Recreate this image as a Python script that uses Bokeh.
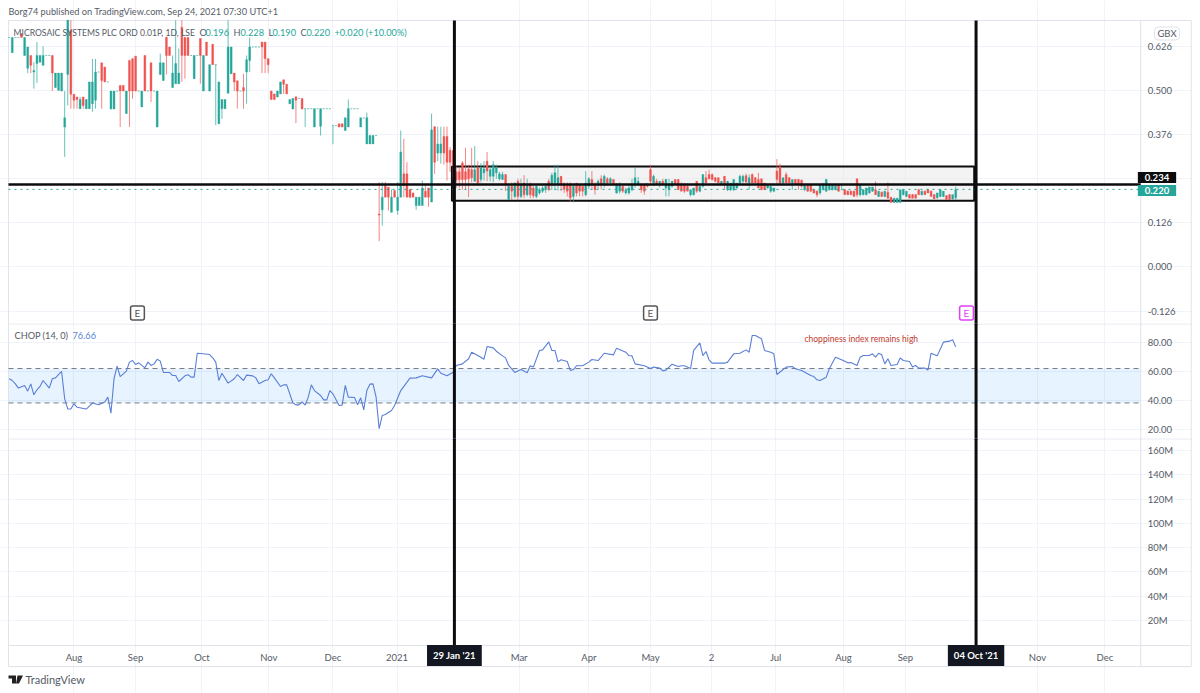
from bokeh.embed import file_html
from bokeh.layouts import column
from bokeh.models import (BoxAnnotation, ColumnDataSource, FixedTicker, Label,
                          PolyAnnotation, Range1d)
from bokeh.plotting import figure
from bokeh.resources import INLINE

# ---------- data ----------
opens = [
 .651,.608,.651,.651,.662,.600,.564,.600,.553,.577, .581,.572,.600,.600,.600,.509,.501,.499,.397,.546,
 .671,.490,.482,.449,.482,.449,.449,.463,.473,.553, .579,.567,.525,.448,.448,.499,.515,.515,.435,.586,
 .591,.598,.499,.454,.600,.499,.579,.499,.397,.546, .529,.652,.624,.509,.520,.520,.680,.651,.651,.600,
 .534,.600,.648,.499,.638,.499,.632,.574,.406,.449, .449,.493,.548,.550,.528,.499,.509,.553,.586,.624,
 .624,.624,.638,.638,.591,.499,.491,.482,.491,.531, .518,.463,.448,.482,.478,.478,.449,.449,.449,.397,
 .449,.399,.449,.449,.449,.401,.401,.406,.406,.387, .397,.449,.449,.449,.397,.423,.349,.349,.349,.373,
 .150,.162,.231,.226,.155,.217,.160,.198,.264,.264, .220,.210,.174,.174,.174,.215,.224,.184,.398,.323,
 .323,.370,.370,.331,.330,
 .270,.270,.295,.270,.278,.276,.243,.281,.248,.267, .300,.257,.257,.267,.250,.248,.262,.191,.229,.200,
 .243,.200,.238,.205,.234,.224,.200,.210,.215,.219, .243,.234,.238,.234,.257,.234,.234,.234,.200,.238,
 .234,.229,.205,.229,.248,.234,.234,.250,.234,.250, .238,.248,.210,.215,.229,.210,.210,.219,.234,.234,
 .234,.234,.234,
 .276,.238,.243,.234,.243,.224,.219,.229,.248,.248, .234,.234,.229,.205,.205,.243,.215,.229,.253,.262,
 .262,.253,.253,.234,.257,.219,.219,.219,.224,.238, .243,.259,.238,.262,.253,.248,.250,.238,.224,.215,
 .215,.272,.284,.238,.262,.253,.234,.248,.248,.246, .219,.234,.234,.219,.215,.210,.219,.215,.219,.219,
 .219,.234,.219,.219,.215,.215,.215,.250,.205,.205, .205,.210,.215,.219,.200,.212,.200,.212,.198,.183,
 .183,.183,.205,.200,.205,.205,.205,.219,.205,.215, .219,.215,.205,.196,.200,.200,.202,.205,.193,.196]
highs = [
 .651,.651,.651,.651,.662,.651,.624,.600,.581,.638, .600,.626,.600,.600,.600,.550,.550,.550,.499,.700,
 .700,.490,.482,.482,.482,.475,.525,.590,.590,.553, .579,.567,.525,.499,.499,.499,.515,.515,.499,.586,
 .591,.598,.499,.499,.600,.499,.579,.499,.499,.605, .579,.652,.624,.600,.700,.620,.700,.651,.651,.600,
 .600,.600,.648,.600,.638,.574,.632,.574,.525,.475, .475,.700,.624,.550,.528,.499,.548,.600,.651,.624,
 .624,.624,.638,.638,.591,.499,.491,.499,.525,.531, .518,.475,.478,.485,.478,.478,.449,.449,.449,.449,
 .449,.449,.449,.449,.449,.401,.401,.406,.406,.423, .475,.449,.449,.449,.423,.423,.438,.373,.373,.373,
 .241,.241,.241,.226,.220,.217,.241,.387,.364,.297, .220,.210,.198,.198,.245,.236,.224,.435,.398,.398,
 .398,.398,.398,.340,.330,
 .286,.280,.300,.338,.290,.338,.343,.300,.295,.300, .326,.285,.300,.290,.270,.270,.262,.235,.240,.240,
 .250,.250,.260,.250,.240,.230,.235,.225,.230,.235, .250,.267,.290,.290,.257,.240,.240,.240,.235,.238,
 .234,.229,.272,.255,.272,.240,.248,.260,.262,.255, .255,.248,.238,.240,.229,.225,.230,.250,.281,.255,
 .234,.234,.238,
 .290,.262,.250,.243,.250,.250,.250,.243,.248,.248, .240,.238,.232,.219,.224,.243,.229,.262,.272,.276,
 .265,.255,.253,.243,.257,.243,.238,.248,.238,.262, .262,.265,.262,.265,.255,.267,.250,.238,.234,.229,
 .224,.306,.293,.253,.269,.255,.248,.250,.250,.248, .234,.236,.236,.222,.217,.234,.238,.250,.234,.234,
 .231,.236,.234,.221,.217,.217,.217,.250,.234,.219, .224,.227,.227,.243,.215,.214,.215,.240,.198,.195,
 .195,.219,.219,.215,.207,.207,.207,.222,.215,.217, .222,.217,.207,.210,.219,.215,.204,.207,.205,.228]
lows = [
 .651,.608,.651,.651,.651,.600,.550,.550,.506,.522, .581,.572,.600,.600,.499,.509,.501,.499,.312,.458,
 .449,.449,.449,.449,.449,.449,.449,.440,.449,.553, .449,.525,.525,.448,.448,.499,.397,.499,.435,.397,
 .477,.499,.499,.454,.499,.499,.468,.499,.397,.546, .529,.546,.600,.509,.520,.520,.525,.534,.600,.600,
 .534,.600,.520,.499,.600,.499,.574,.402,.406,.420, .449,.493,.548,.499,.449,.499,.449,.463,.553,.624,
 .624,.624,.550,.550,.550,.475,.475,.482,.491,.491, .491,.463,.448,.408,.478,.448,.397,.449,.449,.397,
 .449,.373,.449,.449,.449,.348,.401,.397,.397,.387, .397,.449,.449,.449,.397,.423,.349,.349,.349,.373,
 .073,.117,.198,.160,.155,.198,.148,.198,.198,.198, .195,.198,.162,.174,.174,.198,.171,.184,.264,.300,
 .293,.290,.245,.270,.250,
 .224,.225,.219,.220,.198,.240,.243,.235,.240,.245, .243,.243,.240,.250,.245,.248,.215,.190,.190,.195,
 .190,.195,.195,.200,.195,.195,.195,.205,.210,.210, .215,.218,.218,.216,.215,.210,.200,.185,.183,.200,
 .200,.200,.200,.220,.220,.205,.220,.220,.225,.230, .234,.234,.208,.208,.210,.205,.205,.215,.225,.230,
 .210,.205,.225,
 .234,.230,.234,.225,.234,.200,.200,.225,.234,.219, .215,.210,.215,.200,.203,.210,.212,.225,.238,.248,
 .245,.240,.238,.230,.219,.215,.215,.215,.220,.235, .238,.240,.219,.238,.238,.224,.219,.219,.222,.210,
 .212,.234,.234,.235,.238,.238,.219,.234,.219,.225, .215,.213,.212,.208,.198,.205,.217,.213,.217,.217,
 .217,.213,.219,.205,.205,.205,.200,.198,.200,.203, .203,.208,.213,.205,.198,.200,.198,.195,.183,.183,
 .183,.183,.203,.198,.195,.195,.195,.205,.203,.205, .210,.200,.193,.194,.198,.198,.191,.191,.191,.190]
closes = [
 .651,.651,.651,.651,.651,.651,.624,.572,.557,.600, .600,.600,.600,.600,.550,.550,.550,.550,.423,.700,
 .490,.473,.475,.475,.458,.475,.525,.525,.553,.553, .529,.525,.525,.499,.499,.499,.499,.499,.499,.499,
 .499,.499,.499,.499,.499,.499,.499,.499,.499,.579, .579,.600,.600,.550,.577,.550,.600,.600,.600,.600,
 .600,.600,.600,.600,.600,.574,.574,.574,.525,.475, .475,.624,.624,.525,.499,.499,.499,.588,.624,.624,
 .624,.624,.624,.591,.574,.475,.475,.499,.525,.518, .491,.475,.478,.473,.478,.448,.449,.449,.449,.449,
 .449,.449,.449,.449,.449,.401,.401,.397,.397,.423, .449,.449,.449,.449,.423,.423,.423,.373,.373,.373,
 .147,.198,.198,.198,.198,.198,.198,.326,.231,.198, .198,.198,.198,.198,.224,.198,.198,.389,.297,.349,
 .349,.323,.297,.297,.288,
 .246,.248,.248,.248,.250,.253,.276,.238,.281,.278, .272,.276,.290,.281,.264,.262,.234,.229,.215,.238,
 .200,.234,.205,.234,.205,.202,.229,.219,.224,.229, .220,.260,.267,.253,.234,.220,.215,.196,.229,.210,
 .215,.215,.238,.250,.234,.219,.243,.234,.257,.238, .250,.234,.234,.234,.215,.219,.224,.234,.253,.243,
 .219,.215,.229,
 .243,.257,.234,.243,.234,.248,.234,.243,.234,.219, .215,.215,.215,.219,.224,.215,.229,.262,.238,.250,
 .248,.243,.238,.243,.234,.243,.238,.248,.238,.257, .257,.240,.253,.238,.238,.224,.219,.219,.234,.229,
 .224,.248,.238,.253,.238,.238,.248,.234,.234,.229, .234,.215,.215,.210,.205,.234,.234,.248,.234,.234,
 .231,.215,.219,.205,.205,.205,.200,.205,.234,.219, .224,.227,.227,.205,.215,.200,.215,.195,.183,.195,
 .195,.219,.219,.215,.195,.195,.195,.205,.215,.205, .210,.200,.193,.210,.219,.215,.191,.191,.205,.220]

chop_bars = [
 0,1,2,3,5,6,7,8,9,10,11,13,14,15,17,18,19,20,21,22,25,27,29,31,32,33,34,35,36,38,39,40,41,42,44,45,46,47,48,49,
 50,52,53,54,55,57,58,59,60,61,63,65,66,67,68,69,71,73,74,76,77,79,80,81,83,84,85,86,88,89,90,92,93,94,95,96,97,98,99,
 101,102,103,104,105,107,108,109,110,112,113,114,115,116,117,118,119,120,121,122,124,125,127,130,132,134,137,139,140,
 142,144,145,147,149,150,152,154,155,157,158,160,161,162,164,166,168,169,170,172,173,175,176,177,178,179,181,182,183,184,
 186,188,189,191,193,196,197,200,201,202,203,206,208,209,211,212,213,215,217,218,219,221,222,224,225,226,227,228,232,233,
 235,237,239,240,241,242,244,245,247,248,249,252,254,255,257,260,261,262,263,265,266,268,270,272,273,275,276,277,279,280,
 281,282,283,284,285,286,288,289,290,292,293,294,295,297,298,299,301,303,305,306,307]
chop_values = [
 54.8,53.6,51.3,48.4,50.2,46.3,51.3,43.8,47.2,49.5,53.6,48.4,54.8,55.4,59.8,41.0,34.0,34.0,37.6,35.3,34.0,38.1,36.9,38.8,42.2,31.2,54.8,63.4,56.3,60.0,66.2,67.3,64.6,65.7,62.3,66.2,63.9,65.0,68.2,66.9,
 59.1,59.1,57.0,57.0,52.9,56.8,57.5,55.9,55.9,72.3,71.9,71.4,69.2,66.2,53.6,58.6,51.8,54.8,57.7,53.6,57.3,56.8,55.4,51.3,53.6,54.1,58.2,55.4,49.5,50.6,50.6,38.3,36.9,36.9,39.0,36.7,42.2,50.6,46.7,
 43.3,40.3,40.3,46.7,44.5,36.5,36.7,50.2,42.2,41.9,36.9,41.7,33.5,46.7,51.1,51.3,42.2,20.5,29.6,30.3,33.0,36.5,46.7,55.2,55.4,56.8,55.4,61.6,58.6,
 56.8,59.3,63.9,65.0,68.5,73.0,70.7,68.2,76.9,76.0,73.7,70.5,69.1,63.9,59.1,61.1,58.9,63.7,62.8,74.2,74.6,80.1,74.2,74.2,66.4,67.8,66.6,60.5,61.1,63.7,
 63.7,66.2,68.0,67.3,72.3,71.2,75.8,73.0,70.7,70.5,65.0,63.7,61.8,62.8,62.1,60.2,60.7,64.8,63.2,63.7,63.7,61.8,74.2,79.4,70.7,73.5,67.8,65.5,65.5,66.2,
 71.9,72.3,74.6,73.0,84.5,84.5,82.2,74.2,73.0,71.9,57.7,62.8,63.2,61.6,60.5,57.0,56.3,54.1,53.6,55.9,61.6,69.6,67.8,65.7,65.9,63.9,69.6,70.7,70.7,71.9,
 69.6,72.3,71.2,65.0,68.5,63.9,64.6,69.1,67.3,66.6,62.8,63.9,62.1,62.1,60.7,72.3,70.5,79.9,80.6,81.5,76.66]

month_bars = [21, 41, 62.5, 84.2, 105, 125.8, 165.4, 188, 208, 227.8, 248.6, 270.6, 290.7, 333.5, 355.4]
month_labels = ["Aug", "Sep", "Oct", "Nov", "Dec", "2021", "Mar", "Apr", "May", "2", "Jul", "Aug", "Sep", "Nov", "Dec"]
price_ticks = [0.626, 0.5, 0.376, 0.25, 0.126, 0.0, -0.126]
price_labels = ["0.626", "0.500", "0.376", "0.250", "0.126", "0.000", "-0.126"]
chop_ticks = [80, 60, 40, 20]
chop_labels = ["80.00", "60.00", "40.00", "20.00"]
vol_ticks = [20e6, 40e6, 60e6, 80e6, 100e6, 120e6, 140e6, 160e6]
vol_labels = ["20M", "40M", "60M", "80M", "100M", "120M", "140M", "160M"]
volumes = []
earnings_bars = [41.6, 208, 310.5]
start_bar, end_bar = 144.4, 313.6
level_price, last_price = 0.234, 0.220
box_top, box_bottom = 0.285, 0.188
chop_upper, chop_lower = 61.8, 38.2

# ---------- styling ----------
UP, DOWN = "#26a69a", "#ef5350"
GRID, BORDER = "#f0f3fa", "#e0e3eb"
FONT = "Lato"
TXT = "#555b66"
BLACK = "#0c0c0f"
CHOP_BLUE = "#5a7fd6"
LEFT, RIGHT, OUTER = -0.23, 367, 383.4   # the plot's left and right edges and the outer right edge, in bars
X_RANGE = Range1d(-2.82, 383.8)
W = 1192


def pane(height, y0, y1, y_lo, y_hi, margin=0):
    """A pane whose frame fills its whole canvas, so that its texts can sit anywhere in it.
    Lower panes are transparent and overlap the one above by 2px, so the long black lines stay unbroken."""
    f = figure(width=W, height=height, x_range=X_RANGE, y_range=Range1d(y0, y1),
               y_axis_location="right", output_backend="svg", toolbar_location=None, min_border=0,
               margin=(margin, 0, 0, 0), background_fill_color=None, border_fill_color=None)
    f.outline_line_color = None
    f.xgrid.ticker = FixedTicker(ticks=month_bars)
    f.xgrid.bounds = (y_lo, y_hi)
    f.xgrid.grid_line_color = GRID
    f.ygrid.bounds = (LEFT, RIGHT)
    f.ygrid.grid_line_color = GRID
    f.yaxis.fixed_location = RIGHT
    f.yaxis.axis_line_color = None
    f.yaxis.major_tick_line_color = None
    f.yaxis.minor_tick_line_color = None
    f.yaxis.major_label_standoff = 1
    f.yaxis.major_label_text_font = FONT
    f.yaxis.major_label_text_font_size = "9.5px"
    f.yaxis.major_label_text_color = TXT
    # pane borders
    f.segment([LEFT, RIGHT, OUTER], [y_hi] * 3, [LEFT, RIGHT, OUTER], [y_lo] * 3, line_color=BORDER, line_width=1)
    f.segment([LEFT], [y_hi], [OUTER], [y_hi], line_color=BORDER, line_width=1)
    return f


def tag(f, text, **kw):
    opts = dict(text=text, text_font=FONT, text_font_size="8.6px", text_color=TXT, text_baseline="middle",
                x_units="screen", y_units="screen")
    opts.update(kw)
    f.add_layout(Label(**opts))


def black_lines(f, y_hi, y_lo):
    f.segment([start_bar, end_bar], [y_hi] * 2, [start_bar, end_bar], [y_lo] * 2, line_color=BLACK, line_width=3)


# ---------- price pane ----------
bars = list(range(len(opens)))
colors = [UP if c >= o else DOWN for o, c in zip(opens, closes)]
src = ColumnDataSource(dict(x=bars, o=opens, h=highs, l=lows, c=closes, color=colors))

P_TOP, P_BOTTOM = 0.6992, -0.1663
top = pane(325, P_BOTTOM, 0.756, P_BOTTOM, P_TOP)
top.xaxis.visible = False
top.yaxis.ticker = FixedTicker(ticks=price_ticks)
top.yaxis.major_label_overrides = dict(zip(price_ticks, price_labels))
top.ygrid.ticker = FixedTicker(ticks=price_ticks)

top.add_layout(BoxAnnotation(left=143.6, right=end_bar - 0.6, top=box_top, bottom=box_bottom,
                             fill_color="#e8e8e8", fill_alpha=0.5, line_color=BLACK, line_alpha=1, line_width=2,
                             level="underlay"))
top.segment("x", "h", "x", "l", source=src, line_color="color", line_width=1, line_alpha=0.7)
top.vbar("x", width=0.6, top="o", bottom="c", source=src, fill_color="color", line_color="color", line_width=0.4)

top.segment([LEFT], [last_price], [RIGHT], [last_price], line_color=UP, line_width=1, line_dash="dotted")
top.segment([LEFT], [level_price], [RIGHT], [level_price], line_color=BLACK, line_width=2.5)
black_lines(top, P_TOP, P_BOTTOM)

# header, legend, tags: x from the canvas's left, y from its bottom (this canvas ends 2px below the pane)
tag(top, "Borg74 published on TradingView.com, Sep 24, 2021 07:30 UTC+1", x=8, y=314, text_font_size="9.2px")
tag(top, "MICROSAIC SYSTEMS PLC ORD 0.01P, 1D, LSE", x=13, y=293)
for x, t, col in [(199, "O", TXT), (205, "0.196", UP), (233, "H", TXT), (240, "0.228", UP),
                  (268, "L", TXT), (272, "0.190", UP), (300, "C", TXT), (306, "0.220", UP),
                  (334, "+0.020 (+10.00%)", UP)]:
    tag(top, t, x=x, y=293, text_color=col, text_font_size="9.2px")
for bar, col in zip(earnings_bars, ["#555555", "#555555", "#e040fb"]):
    top.add_layout(Label(x=bar, y=-0.131, text="E", text_font=FONT, text_font_size="10px", text_color=col,
                         text_align="center", text_baseline="middle", border_line_color=col, border_line_width=1.5,
                         background_fill_color="white", padding=(4, 1), border_radius=2))
tag(top, "GBX", x=1166.5, y=292, text_align="center", border_line_color=BORDER, padding=(3, 1), border_radius=4,
    text_font_size="9.5px")
tag(top, "0.234", x=1156.5, y=148, text_align="center", text_color="white", text_font_style="bold",
    background_fill_color=BLACK, padding=(7, 2), text_font_size="9.5px")
tag(top, "0.220", x=1156.5, y=135, text_align="center", text_color="white", text_font_style="bold",
    background_fill_color=UP, padding=(7, 2), text_font_size="9.5px")

# ---------- CHOP pane (starts at 323, ends 2px into the next pane) ----------
M_TOP, M_BOTTOM = 92.7, 12.44
mid = pane(117, M_BOTTOM, M_TOP, M_BOTTOM, 92.4, margin=-2)
mid.xaxis.visible = False
mid.yaxis.ticker = FixedTicker(ticks=chop_ticks)
mid.yaxis.major_label_overrides = dict(zip(chop_ticks, chop_labels))
mid.ygrid.ticker = FixedTicker(ticks=chop_ticks)
mid.add_layout(BoxAnnotation(left=LEFT, right=RIGHT, top=chop_upper, bottom=chop_lower, fill_color="#2196f3",
                             fill_alpha=0.11, line_alpha=0, level="underlay"))
mid.segment([LEFT, LEFT], [chop_upper, chop_lower], [RIGHT, RIGHT], [chop_upper, chop_lower],
            line_color="#787b86", line_width=1, line_dash="5 4")
mid.line(chop_bars, chop_values, line_color=CHOP_BLUE, line_width=1.1)
black_lines(mid, M_TOP, M_BOTTOM)
tag(mid, "CHOP (14, 0)", x=14, y=105, text_font_size="9.2px")
tag(mid, "76.66", x=72, y=105, text_color=CHOP_BLUE, text_font_size="9.2px")
tag(mid, "choppiness index remains high", x=804, y=102, text_color="#c0392b", text_font_size="8.5px")

# ---------- empty volume pane with the time axis ----------
V_AXIS, V_BOTTOM = -0.6e6, -17.9e6
vol = pane(255, -40.1e6, 169.9e6, V_AXIS, 169.6e6, margin=-2)
vol.segment([LEFT, RIGHT, OUTER], [V_AXIS] * 3, [LEFT, RIGHT, OUTER], [V_BOTTOM] * 3, line_color=BORDER, line_width=1)
vol.segment([LEFT, LEFT], [V_AXIS, V_BOTTOM], [OUTER, OUTER], [V_AXIS, V_BOTTOM], line_color=BORDER, line_width=1)
vol.yaxis.ticker = FixedTicker(ticks=vol_ticks)
vol.yaxis.major_label_overrides = dict(zip(vol_ticks, vol_labels))
vol.ygrid.ticker = FixedTicker(ticks=vol_ticks)
vol.vbar(x=list(range(len(volumes))), top=volumes, width=0.6, color=UP)
vol.xaxis.fixed_location = V_AXIS
vol.xaxis.ticker = FixedTicker(ticks=month_bars)
vol.xaxis.major_label_overrides = dict(zip(month_bars, month_labels))
vol.xaxis.axis_line_color = None
vol.xaxis.major_tick_line_color = None
vol.xaxis.minor_tick_line_color = None
vol.xaxis.major_label_standoff = 0
vol.xaxis.major_label_text_font = FONT
vol.xaxis.major_label_text_font_size = "9.5px"
vol.xaxis.major_label_text_color = TXT
black_lines(vol, 169.9e6, V_AXIS)
for x, t in ((start_bar, "29 Jan '21"), (end_bar, "04 Oct '21")):
    vol.add_layout(Label(x=x, x_units="data", y=38, y_units="screen", text=t, text_font=FONT, text_font_size="9.5px",
                         text_color="white", text_font_style="bold", text_align="center", text_baseline="middle",
                         background_fill_color="#131722", padding=(6, 5)))
tag(vol, "TradingView", x=25, y=14, text_font_size="11px", text_color="#555b66")
for xs, ys in (([8, 15.5, 15.5, 11.5, 11.5, 8], [18, 18, 10, 10, 15, 15]),
               ([17, 22.5, 18.5, 15.5], [18, 18, 10, 10])):
    vol.add_layout(PolyAnnotation(xs=xs, ys=ys, xs_units="screen", ys_units="screen", fill_color="#222222",
                                  fill_alpha=1, line_alpha=0))

page = column(top, mid, vol, spacing=0)
open("out.html", "w").write(file_html(page, INLINE))
